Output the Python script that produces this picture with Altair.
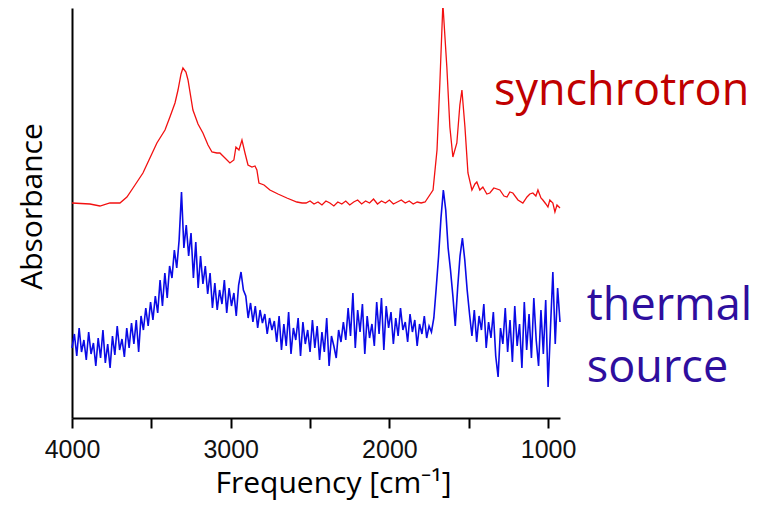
import altair as alt
import pandas as pd

# ---- synchrotron spectrum (wavenumber cm-1, absorbance a.u.) ----
sync_wn = [4000, 3887, 3824, 3761, 3698, 3654, 3603, 3553, 3509, 3465, 3414, 3383, 3351,
           3332, 3313, 3301, 3282, 3269, 3238, 3206, 3175, 3143, 3118, 3087, 3068, 3036,
           3005, 2980, 2967, 2948, 2929, 2910, 2891, 2866, 2847, 2835, 2822, 2790, 2753,
           2702, 2646, 2583, 2550,
           2525, 2500, 2475, 2450, 2425, 2400, 2375, 2350, 2325, 2300, 2275, 2250, 2225,
           2200, 2175, 2150, 2125, 2100, 2075, 2050, 2025, 2000, 1975, 1950, 1925, 1900,
           1875, 1850, 1825, 1800, 1775,
           1725, 1700, 1682, 1663, 1638, 1619, 1600, 1575, 1556, 1543, 1524, 1505, 1480,
           1461, 1449, 1430, 1411, 1386, 1367, 1342, 1304, 1278, 1259, 1241, 1222, 1190,
           1159, 1133, 1115, 1096, 1077, 1064, 1045, 1033, 1014, 1001, 989, 970, 957, 944, 925]
sync_abs = [2.15, 2.14, 2.12, 2.15, 2.15, 2.21, 2.33, 2.45, 2.60, 2.75, 2.88, 3.01, 3.15,
            3.28, 3.44, 3.50, 3.46, 3.38, 3.08, 2.94, 2.85, 2.73, 2.66, 2.65, 2.65, 2.60,
            2.55, 2.58, 2.71, 2.68, 2.78, 2.65, 2.53, 2.51, 2.52, 2.48, 2.35, 2.33, 2.28,
            2.24, 2.20, 2.16, 2.15,
            2.15, 2.17, 2.14, 2.16, 2.13, 2.17, 2.15, 2.12, 2.16, 2.14, 2.17, 2.13, 2.16,
            2.18, 2.14, 2.17, 2.15, 2.19, 2.14, 2.17, 2.15, 2.18, 2.14, 2.16, 2.18, 2.15,
            2.17, 2.14, 2.16, 2.15, 2.16,
            2.28, 2.68, 3.35, 4.14, 3.51, 2.91, 2.61, 2.75, 3.13, 3.28, 2.91, 2.45, 2.28,
            2.34, 2.36, 2.28, 2.31, 2.24, 2.25, 2.30, 2.28, 2.22, 2.21, 2.26, 2.25, 2.18,
            2.15, 2.21, 2.24, 2.25, 2.22, 2.28, 2.20, 2.18, 2.14, 2.11, 2.18, 2.15, 2.06, 2.13, 2.10]

# ---- thermal-source spectrum: sampled every 15 cm-1 from 4000 cm-1 ----
thermal_start = 4000
thermal_step = 15
thermal_abs = [
    0.70, 0.84, 0.62, 0.90, 0.66, 0.78, 0.58, 0.86, 0.64, 0.75, 0.52, 0.80, 0.60, 0.88,
    0.55, 0.74, 0.50, 0.82, 0.63, 0.92, 0.68, 0.79, 0.61,
    0.90, 0.70, 0.95, 0.74, 0.98, 0.66, 1.02,
    0.88, 1.10, 0.92, 1.16, 0.98, 1.22,
    1.05, 1.38, 1.12, 1.45, 1.20, 1.52,
    1.40, 1.68, 1.50, 1.78,
    2.26,
    1.70, 1.93, 1.62, 1.85,
    1.40, 1.76, 1.30, 1.62, 1.34,
    1.52, 1.24, 1.45,
    1.10, 1.35, 1.08, 1.28, 1.14, 1.38, 1.05, 1.30, 1.12, 1.25, 1.02, 1.33,
    1.46, 1.28,
    1.22, 1.00, 1.15, 0.96, 1.12, 0.90, 1.08, 0.95, 1.04, 0.84, 1.00, 0.88, 0.97,
    0.76, 1.02, 0.68, 0.94, 0.72, 1.06, 0.64, 0.90, 0.78, 1.00, 0.62, 0.96, 0.74, 0.88, 0.66, 0.98,
    0.70, 0.92, 0.58, 0.86, 0.66, 1.00, 0.52, 0.82, 0.72, 0.60, 0.88, 0.76,
    0.96, 0.78, 1.10, 0.82, 1.25, 0.70, 1.08, 0.86, 1.14, 0.64, 1.02, 0.80, 0.94, 0.72,
    1.16, 0.84, 1.20, 0.68, 1.12, 0.90, 1.06, 0.74, 1.00, 0.82, 1.10, 0.88, 0.96, 0.76,
    1.04, 0.86, 0.98, 0.72, 0.94, 0.84, 1.02, 0.80, 0.92, 0.86, 1.00,
    1.30, 1.62, 2.00, 2.28, 2.08, 1.70, 1.48, 1.22, 0.92, 1.30, 1.62, 1.80, 1.58, 1.28, 1.04,
    0.82, 1.08, 0.76, 1.02, 0.88, 1.14, 0.70, 0.96, 0.80, 1.06, 0.62, 0.41, 0.90, 0.74,
    1.10, 0.66, 0.98, 0.56, 1.12, 0.72, 0.94, 0.50, 1.16, 0.68, 1.04, 0.60, 1.20, 0.78,
    0.52, 1.08, 0.64, 1.18, 0.31, 0.90, 1.46, 0.74, 1.30, 0.96]
thermal_wn = [thermal_start - thermal_step * i for i in range(len(thermal_abs))]

x_ticks = [4000, 3500, 3000, 2500, 2000, 1500, 1000]

label_text = ["synchrotron", "thermal", "source"]
label_wn = [1341, 756, 756]
label_abs = [3.13, 0.98, 0.36]
label_color = ["#C00000", "#2E0E9E", "#2E0E9E"]

sync_df = pd.DataFrame({"wn": sync_wn, "absorbance": sync_abs})
thermal_df = pd.DataFrame({"wn": thermal_wn, "absorbance": thermal_abs})
label_df = pd.DataFrame({"wn": label_wn, "absorbance": label_abs,
                         "text": label_text, "color": label_color})

x_scale = alt.Scale(domain=[4000, 925], nice=False, zero=False)
y_scale = alt.Scale(domain=[0, 4.10], nice=False, zero=False)

x_axis = alt.Axis(
    values=x_ticks,
    labelExpr="datum.value % 1000 == 0 ? format(datum.value, 'd') : ''",
    tickSize=10, tickWidth=2, tickColor="black",
    domainColor="black", domainWidth=2,
    labelFont="Liberation Sans", labelFontSize=25, labelColor="#111111",
    labelPadding=9, labelFlush=False, labelOverlap=False, labelBound=False,
    grid=False,
    title="Frequency [cm⁻¹]", titleFont="Open Sans", titleFontSize=30,
    titleFontWeight="normal", titleColor="black",
    titleX=261, titleY=74, titleBaseline="alphabetic", titleAlign="center",
)
y_axis = alt.Axis(
    ticks=False, labels=False, grid=False,
    domainColor="black", domainWidth=2,
    title="Absorbance", titleFont="Open Sans", titleFontSize=30,
    titleFontWeight="normal", titleColor="black",
    titlePadding=25, titleY=198, titleAlign="center", titleAngle=270,
)

sync_line = alt.Chart(sync_df).mark_line(color="#F21010", strokeWidth=1.3).encode(
    x=alt.X("wn:Q", scale=x_scale, axis=x_axis),
    y=alt.Y("absorbance:Q", scale=y_scale, axis=y_axis),
)
thermal_line = alt.Chart(thermal_df).mark_line(color="#0A0AE6", strokeWidth=1.6).encode(
    x=alt.X("wn:Q", scale=x_scale),
    y=alt.Y("absorbance:Q", scale=y_scale),
)
labels = alt.Chart(label_df).mark_text(
    align="left", baseline="alphabetic", font="Open Sans", fontSize=45
).encode(
    x=alt.X("wn:Q", scale=x_scale),
    y=alt.Y("absorbance:Q", scale=y_scale),
    text="text:N",
    color=alt.Color("color:N", scale=None),
)

chart = alt.layer(sync_line, thermal_line, labels).properties(
    width=488, height=410,
    autosize=alt.AutoSizeParams(type="none"),
    padding={"left": 64, "top": 0, "right": 193, "bottom": 83},
    background="white",
).configure_view(stroke=None)

chart.save("out.html", embed_options={"renderer": "svg", "actions": False})
